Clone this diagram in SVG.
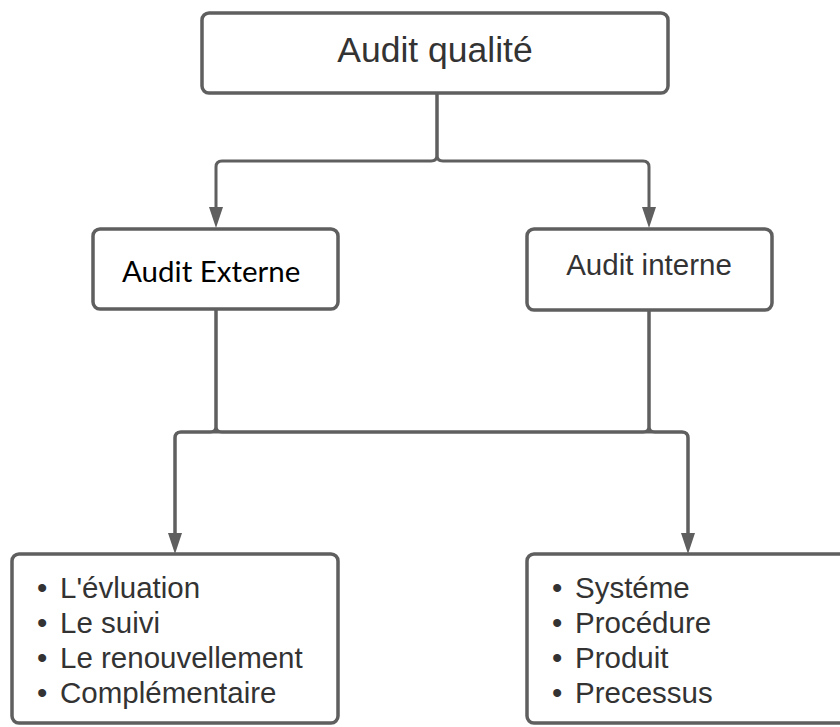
<svg xmlns="http://www.w3.org/2000/svg" width="840" height="727" viewBox="0 0 840 727">
<style>
.box{fill:#fff;stroke:#5f5f5f;stroke-width:3.5}
.t{font-family:"Liberation Sans",Arial,sans-serif;fill:#333}
.c{fill:none;stroke:#5f5f5f;stroke-width:3}
.ah{fill:#5f5f5f}
</style>
<rect width="840" height="727" fill="#fff"/>
<g id="connectors">
<path class="c" d="M437,93 V155 Q437,161 431,161 H222 Q216,161 216,167 V207"/>
<path class="ah" d="M209,207 L223,207 L216,228 Z"/>
<path class="c" d="M437,93 V155 Q437,161 443,161 H643 Q649,161 649,167 V207"/>
<path class="ah" d="M642,207 L656,207 L649,228 Z"/>
<path class="c" d="M216,310 V426 Q216,432 210,432 H181 Q175,432 175,438 V533"/>
<path class="c" d="M216,310 V426 Q216,432 222,432 H682 Q688,432 688,438 V533"/>
<path class="c" d="M649,310 V426 Q649,432 655,432 H682 Q688,432 688,438 V533"/>
<path class="c" d="M649,310 V426 Q649,432 643,432 H181 Q175,432 175,438 V533"/>
<path class="ah" d="M168,533 L182,533 L175,554 Z"/>
<path class="ah" d="M681,533 L695,533 L688,554 Z"/>
</g>
<g id="audit-qualite">
<rect class="box" x="202" y="13" width="466" height="80" rx="7"/>
<text class="t" x="435" y="62" font-size="35.5" text-anchor="middle">Audit qualité</text>
</g>
<g id="audit-externe">
<rect class="box" x="93" y="229" width="245" height="80" rx="7"/>
<text x="122" y="282" font-family="Lato,'Open Sans',sans-serif" font-size="29.5" fill="#000">Audit Externe</text>
</g>
<g id="audit-interne">
<rect class="box" x="527" y="229" width="245" height="81" rx="7"/>
<text class="t" x="649" y="275" font-size="29.5" text-anchor="middle">Audit interne</text>
</g>
<g id="externe-liste">
<rect class="box" x="12" y="554" width="326" height="169" rx="7"/>
<g class="t" font-size="29.5">
<text x="37" y="598">•</text><text x="60" y="598">L'évluation</text>
<text x="37" y="633">•</text><text x="60" y="633">Le suivi</text>
<text x="37" y="668">•</text><text x="60" y="668">Le renouvellement</text>
<text x="37" y="703">•</text><text x="60" y="703">Complémentaire</text>
</g>
</g>
<g id="interne-liste">
<rect class="box" x="527" y="554" width="326" height="169" rx="7"/>
<g class="t" font-size="29.5">
<text x="552" y="598">•</text><text x="575" y="598">Systéme</text>
<text x="552" y="633">•</text><text x="575" y="633">Procédure</text>
<text x="552" y="668">•</text><text x="575" y="668">Produit</text>
<text x="552" y="703">•</text><text x="575" y="703">Precessus</text>
</g>
</g>
</svg>
